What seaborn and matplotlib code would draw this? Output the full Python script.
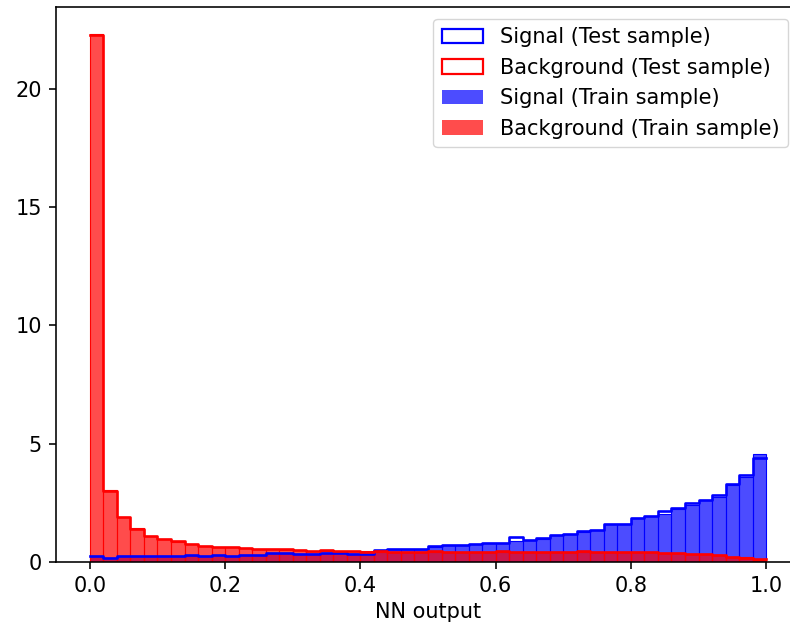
import matplotlib
matplotlib.use("Agg")
import matplotlib.pyplot as plt
import matplotlib.patches as mpatches
from matplotlib.transforms import Bbox
import seaborn as sns
import numpy as np
import pandas as pd

# bin layout: 50 bins over the NN output range [0, 1]
bin_edges = list(np.linspace(0.0, 1.0, 51))

# normalised bin heights
sig_train = [0.24, 0.17, 0.24, 0.26, 0.26, 0.26, 0.27, 0.27, 0.27, 0.30,
             0.26, 0.30, 0.31, 0.37, 0.37, 0.35, 0.33, 0.37, 0.38, 0.34,
             0.33, 0.48, 0.54, 0.55, 0.56, 0.65, 0.70, 0.71, 0.75, 0.79,
             0.79, 0.90, 0.93, 0.99, 1.13, 1.19, 1.28, 1.36, 1.61, 1.62,
             1.84, 1.93, 2.05, 2.26, 2.40, 2.62, 2.74, 3.27, 3.59, 4.55]
sig_test = [0.25, 0.18, 0.24, 0.27, 0.26, 0.27, 0.27, 0.28, 0.27, 0.31,
            0.25, 0.31, 0.31, 0.38, 0.38, 0.35, 0.33, 0.38, 0.38, 0.33,
            0.33, 0.49, 0.55, 0.55, 0.56, 0.66, 0.71, 0.71, 0.76, 0.80,
            0.79, 1.05, 0.93, 1.00, 1.14, 1.20, 1.29, 1.37, 1.62, 1.62,
            1.85, 1.94, 2.15, 2.27, 2.49, 2.63, 2.84, 3.28, 3.69, 4.38]
bkg_train = [22.32, 3.05, 1.92, 1.42, 1.12, 0.98, 0.86, 0.76, 0.68, 0.64,
             0.62, 0.59, 0.56, 0.54, 0.52, 0.50, 0.47, 0.48, 0.46, 0.45,
             0.45, 0.44, 0.44, 0.44, 0.44, 0.44, 0.44, 0.44, 0.44, 0.44,
             0.44, 0.44, 0.44, 0.44, 0.44, 0.44, 0.44, 0.44, 0.44, 0.44,
             0.44, 0.43, 0.38, 0.37, 0.35, 0.32, 0.30, 0.22, 0.20, 0.10]
bkg_test = [22.30, 3.02, 1.90, 1.40, 1.10, 0.99, 0.87, 0.75, 0.69, 0.64,
            0.63, 0.58, 0.56, 0.53, 0.53, 0.49, 0.47, 0.49, 0.45, 0.46,
            0.44, 0.45, 0.44, 0.43, 0.44, 0.45, 0.44, 0.44, 0.43, 0.44,
            0.45, 0.44, 0.44, 0.43, 0.44, 0.44, 0.45, 0.44, 0.44, 0.43,
            0.44, 0.42, 0.39, 0.37, 0.34, 0.32, 0.29, 0.23, 0.19, 0.11]

labels = ["Signal (Test sample)", "Background (Test sample)",
          "Signal (Train sample)", "Background (Train sample)"]

centers = [(a + b) / 2 for a, b in zip(bin_edges[:-1], bin_edges[1:])]
df = pd.DataFrame({"x": centers, "sig_train": sig_train, "sig_test": sig_test,
                   "bkg_train": bkg_train, "bkg_test": bkg_test})

plt.rcParams.update({
    "font.family": ["DejaVu Sans"],
    "font.size": 15,
    "axes.linewidth": 1.16,
    "xtick.major.size": 5.1,
    "ytick.major.size": 5.1,
    "xtick.major.width": 1.16,
    "ytick.major.width": 1.16,
    "xtick.major.pad": 5.1,
    "ytick.major.pad": 5.1,
})

# draw on a wider canvas and crop to 790 px, as the original picture is cropped
fig = plt.figure(figsize=(8.2, 6.25), dpi=100)
ax = fig.add_axes([56 / 820, 63 / 625, 744 / 820, 554.7 / 625])

sns.histplot(data=df, x="x", weights="sig_train", bins=bin_edges, element="bars",
             fill=True, color="blue", alpha=0.7, edgecolor="blue", linewidth=0.8, ax=ax)
sns.histplot(data=df, x="x", weights="bkg_train", bins=bin_edges, element="bars",
             fill=True, color="red", alpha=0.7, edgecolor="red", linewidth=0.8, ax=ax)
sns.histplot(data=df, x="x", weights="sig_test", bins=bin_edges, element="step",
             fill=False, color="blue", linewidth=1.9, ax=ax)
sns.histplot(data=df, x="x", weights="bkg_test", bins=bin_edges, element="step",
             fill=False, color="red", linewidth=1.9, ax=ax)

ax.set_xlim(-0.05, 1.05)
ax.set_ylim(0, 23.45)
ax.set_xticks([0.0, 0.2, 0.4, 0.6, 0.8, 1.0])
ax.set_yticks([0, 5, 10, 15, 20])
ax.set_xlabel("NN output")
ax.set_ylabel("")

handles = [
    mpatches.Patch(facecolor="none", edgecolor="blue", linewidth=1.6),
    mpatches.Patch(facecolor="none", edgecolor="red", linewidth=1.6),
    mpatches.Patch(facecolor="blue", alpha=0.7),
    mpatches.Patch(facecolor="red", alpha=0.7),
]
ax.legend(handles, labels, loc="upper right", fontsize=15,
          bbox_to_anchor=((788 - 56) / 744, 0.9789), borderaxespad=0)

fig.savefig("out.png", dpi=100, bbox_inches=Bbox([[0, 0], [7.9, 6.25]]))
plt.close(fig)
